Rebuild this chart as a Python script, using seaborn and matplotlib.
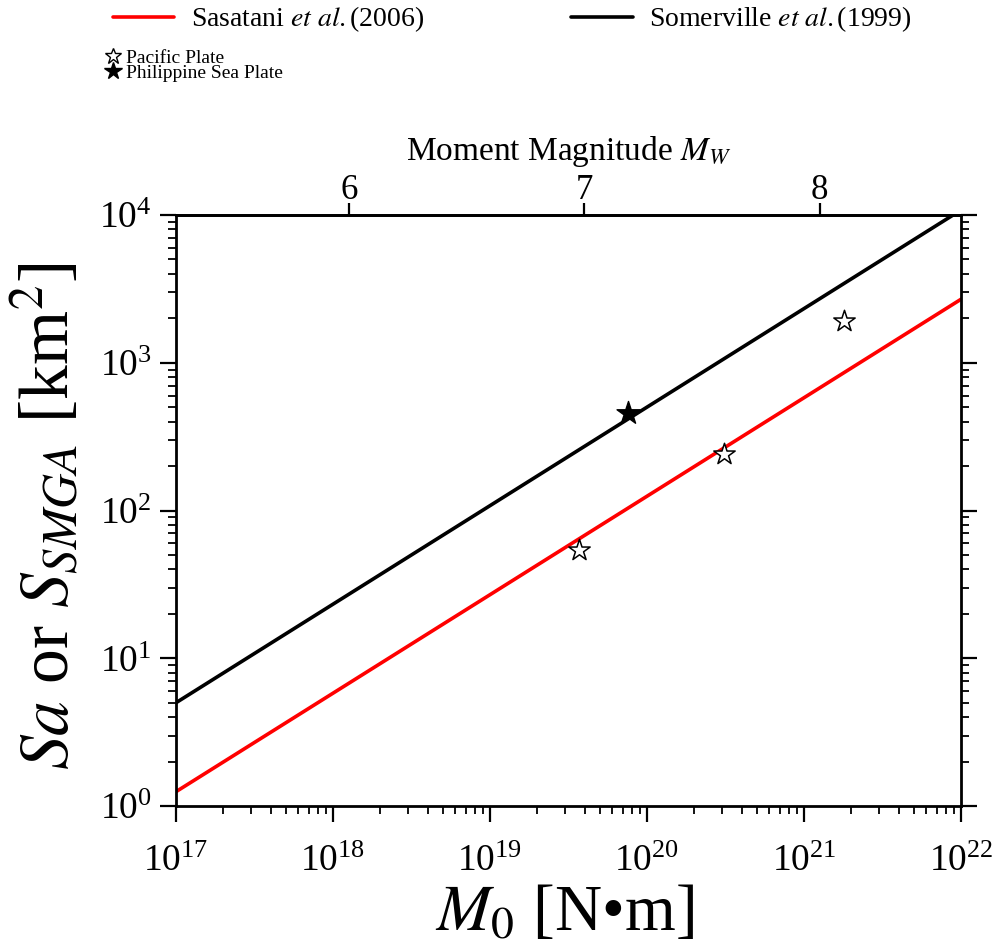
import numpy as np
import pandas as pd
import matplotlib
matplotlib.use("Agg")
import matplotlib.pyplot as plt
from matplotlib.lines import Line2D
from matplotlib.ticker import LogLocator, LogFormatterMathtext, NullFormatter, NullLocator
import seaborn as sns

# Scaling relations (end points over the plotted moment range)
m0_ends = [1e17, 1e22]
sasatani_area = [1.25, 2.69e3]
somerville_area = [5.0, 1.08e4]

# Observed strong-motion generation areas
pacific_m0 = [3.7e19, 3.1e20, 1.8e21]
pacific_area = [54, 240, 1930]
philippine_m0 = [7.6e19]
philippine_area = [455]

mw_ticks = [6, 7, 8]

sns.set_theme(style="ticks")
plt.rcParams.update({
    "font.family": ["Liberation Serif", "DejaVu Serif"],
    "mathtext.fontset": "stix",
    "axes.linewidth": 2.0,
    "axes.edgecolor": "black",
    "xtick.color": "black",
    "ytick.color": "black",
    "text.color": "black",
    "axes.labelcolor": "black",
})

fig = plt.figure(figsize=(9.97, 9.47), dpi=100)
ax = fig.add_axes([176 / 997, 1 - 806 / 947, (961 - 176) / 997, (806 - 215) / 947])

lines_df = pd.DataFrame({"m0": m0_ends, "sasatani": sasatani_area, "somerville": somerville_area})
sns.lineplot(data=lines_df, x="m0", y="sasatani", color="#ff0000", lw=2.6, ax=ax, legend=False)
sns.lineplot(data=lines_df, x="m0", y="somerville", color="black", lw=2.6, ax=ax, legend=False)

sns.scatterplot(x=pacific_m0, y=pacific_area, marker="*", s=260, facecolor="white",
                edgecolor="black", linewidth=1.1, ax=ax, zorder=5, legend=False)
sns.scatterplot(x=philippine_m0, y=philippine_area, marker="*", s=300, color="black",
                edgecolor="black", linewidth=1.0, ax=ax, zorder=5, legend=False)

ax.set_xscale("log")
ax.set_yscale("log")
ax.set_xlim(1e17, 1e22)
ax.set_ylim(1, 1e4)

for axis in (ax.xaxis, ax.yaxis):
    axis.set_major_locator(LogLocator(base=10, numticks=20))
    axis.set_minor_locator(LogLocator(base=10, subs=np.arange(2, 10), numticks=100))
    axis.set_major_formatter(LogFormatterMathtext())
    axis.set_minor_formatter(NullFormatter())

ax.tick_params(axis="x", which="both", direction="out", bottom=True, top=False,
               labelsize=27, pad=16)
ax.tick_params(axis="y", which="both", direction="out", left=True, right=True,
               labelleft=True, labelright=False, labelsize=27, pad=6)
ax.tick_params(which="major", length=11.5, width=1.6)
ax.tick_params(which="minor", length=6, width=1.3)

ax.set_xlabel("$M_0$ [N\u2022m]", fontsize=47)
ax.set_ylabel("$Sa$ or $S_{SMGA}$ [km$^2$]", fontsize=50)
ax.xaxis.set_label_coords(0.495, -0.134)
ax.yaxis.set_label_coords(-0.118, 0.49)


def m0_to_mw(x):
    x = np.clip(np.asarray(x, dtype=float), 1e-300, None)
    return (np.log10(x) - 9.1) / 1.5


def mw_to_m0(mw):
    return 10 ** (1.5 * np.asarray(mw, dtype=float) + 9.1)


secax = ax.secondary_xaxis("top", functions=(m0_to_mw, mw_to_m0))
secax.set_xticks(mw_ticks)
secax.set_xticklabels([str(t) for t in mw_ticks])
secax.xaxis.set_minor_locator(NullLocator())
secax.tick_params(axis="x", direction="out", length=9, width=1.6, labelsize=25, pad=-3)
secax.set_xlabel("Moment Magnitude $M_W$", fontsize=24, labelpad=10)

line_handles = [Line2D([], [], color="#ff0000", lw=2.6), Line2D([], [], color="black", lw=2.6)]
line_labels = ["Sasatani $\\mathit{et\\ al.}$(2006)", "Somerville $\\mathit{et\\ al.}$(1999)"]
fig.legend(line_handles, line_labels, ncol=2, loc="upper left", bbox_to_anchor=(113 / 997, 0.995),
           frameon=False, fontsize=20, handlelength=2.2, handletextpad=0.6,
           columnspacing=5.3, borderpad=0, borderaxespad=0)

star_handles = [
    Line2D([], [], ls="none", marker="*", markersize=12, markerfacecolor="white",
           markeredgecolor="black", markeredgewidth=1.0),
    Line2D([], [], ls="none", marker="*", markersize=13, markerfacecolor="black",
           markeredgecolor="black"),
]
fig.legend(star_handles, ["Pacific Plate", "Philippine Sea Plate"], loc="upper left",
           bbox_to_anchor=(103 / 997, 1 - 49 / 947), frameon=False, fontsize=14,
           handlelength=1.0, handletextpad=0.2, labelspacing=-0.1, borderpad=0, borderaxespad=0)

fig.savefig("out.png", dpi=100)
